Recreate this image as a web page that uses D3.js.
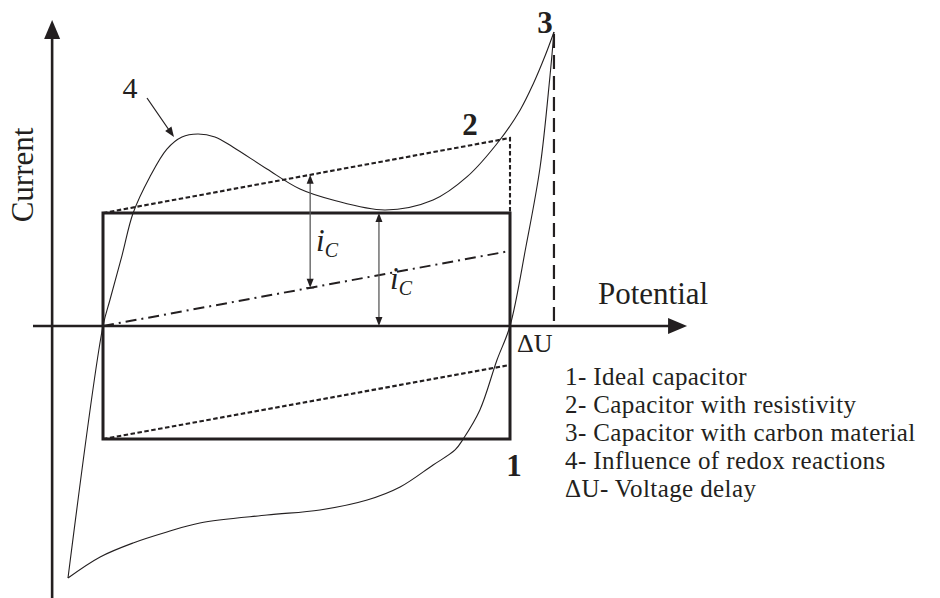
<!DOCTYPE html>
<html>
<head>
<meta charset="utf-8">
<script src="https://cdn.jsdelivr.net/npm/d3@7"></script>
<style>
  html, body { margin: 0; padding: 0; background: #fff; }
  svg { display: block; }
  text { font-family: "Liberation Serif", "Times New Roman", serif; fill: #231f20; }
</style>
</head>
<body>
<svg id="chart" width="940" height="598"></svg>
<script>
// Potential in units of the ideal window (0 .. 1), current in units of the ideal plateau (-1 .. 1)

// 1 - ideal capacitor: rectangle corners
const idealE = [0, 1];
const idealI = [-1, 1];

// 2 - capacitor with resistivity: sloped forward / reverse lines
const resistE = [0, 1];
const resistTopI = [1, 1.664];
const resistBottomI = [-1, -0.345];

// dash-dot reference line (resistive slope through origin)
const slopeE = [0, 1];
const slopeI = [0, 0.664];

// 3/4 - carbon material with redox influence: forward sweep
const forwardE = [-0.086, 0, 0.017, 0.047, 0.074, 0.115, 0.157, 0.194, 0.233, 0.275, 0.319, 0.403, 0.484, 0.565, 0.693, 0.811, 0.894, 0.975, 1.025, 1.057, 1.086, 1.108];
const forwardI = [-2.230, 0, 0.230, 0.628, 1.000, 1.319, 1.566, 1.673, 1.699, 1.673, 1.584, 1.389, 1.212, 1.115, 1.027, 1.115, 1.319, 1.646, 1.912, 2.142, 2.389, 2.602];

// reverse sweep
const reverseE = [1.108, 1.098, 1.074, 1.039, 1.000, 0.968, 0.926, 0.885, 0.865, 0.811, 0.730, 0.649, 0.533, 0.403, 0.238, 0.157, 0.074, -0.007, -0.086];
const reverseI = [2.602, 2.204, 1.407, 0.699, 0, -0.301, -0.743, -1.000, -1.097, -1.230, -1.425, -1.540, -1.628, -1.673, -1.743, -1.823, -1.920, -2.044, -2.230];

// voltage delay
const deltaU = 1.108;

// i_C markers (potential positions)
const icE = [0.509, 0.678];

// axes extents
const axisE = [-0.172, 1.435];
const axisI = [-2.40, 2.708];
const yAxisE = -0.125;

// legend
const legendLines = [
  "1- Ideal capacitor",
  "2- Capacitor with resistivity",
  "3- Capacitor with carbon material",
  "4- Influence of redox reactions",
  "\u0394U- Voltage delay"
];

const ink = "#231f20";
const svg = d3.select("#chart");

const x = d3.scaleLinear().domain([0, 1]).range([103, 510]);
const y = d3.scaleLinear().domain([0, 1]).range([326, 213]);

const line = d3.line().x(d => x(d[0])).y(d => y(d[1]));
const smooth = d3.line().x(d => x(d[0])).y(d => y(d[1])).curve(d3.curveCatmullRom.alpha(0.5));

// axes
svg.append("line")
  .attr("x1", x(yAxisE)).attr("x2", x(yAxisE))
  .attr("y1", y(axisI[0]) + 2).attr("y2", y(axisI[1]) + 10)
  .attr("stroke", ink).attr("stroke-width", 2.6);
svg.append("path")
  .attr("d", `M${x(yAxisE)},${y(axisI[1])} L${x(yAxisE) - 8},${y(axisI[1]) + 19} L${x(yAxisE) + 8},${y(axisI[1]) + 19} Z`)
  .attr("fill", ink);

svg.append("line")
  .attr("x1", x(axisE[0])).attr("x2", x(axisE[1]) - 10)
  .attr("y1", y(0)).attr("y2", y(0))
  .attr("stroke", ink).attr("stroke-width", 2.6);
svg.append("path")
  .attr("d", `M${x(axisE[1])},${y(0)} L${x(axisE[1]) - 19},${y(0) - 8} L${x(axisE[1]) - 19},${y(0) + 8} Z`)
  .attr("fill", ink);

// 1 - ideal capacitor
svg.append("rect")
  .attr("x", x(idealE[0])).attr("y", y(idealI[1]))
  .attr("width", x(idealE[1]) - x(idealE[0]))
  .attr("height", y(idealI[0]) - y(idealI[1]))
  .attr("fill", "none").attr("stroke", ink).attr("stroke-width", 3);

// 2 - resistive capacitor (dotted)
const dotted = { "stroke": ink, "stroke-width": 2.1, "stroke-dasharray": "4.5,2.5", "fill": "none" };
function applyAttrs(sel, attrs) { Object.entries(attrs).forEach(([k, v]) => sel.attr(k, v)); return sel; }
applyAttrs(svg.append("path").attr("d", line([
  [resistE[0], resistTopI[0]], [resistE[1], resistTopI[1]], [resistE[1], idealI[1]]
])), dotted);
applyAttrs(svg.append("path").attr("d", line([
  [resistE[0], resistBottomI[0]], [resistE[1], resistBottomI[1]]
])), dotted);

// dash-dot slope line
svg.append("path")
  .attr("d", line([[slopeE[0], slopeI[0]], [slopeE[1], slopeI[1]]]))
  .attr("fill", "none").attr("stroke", ink).attr("stroke-width", 2)
  .attr("stroke-dasharray", "11,5,2,5");

// voltage delay dashed line
svg.append("line")
  .attr("x1", x(deltaU)).attr("x2", x(deltaU))
  .attr("y1", y(forwardI[forwardI.length - 1]) + 2).attr("y2", y(0))
  .attr("stroke", ink).attr("stroke-width", 2.2)
  .attr("stroke-dasharray", "14,7");

// 3/4 - carbon / redox curve
svg.append("path")
  .attr("d", smooth(forwardE.map((e, i) => [e, forwardI[i]])))
  .attr("fill", "none").attr("stroke", ink).attr("stroke-width", 1.1);
svg.append("path")
  .attr("d", smooth(reverseE.map((e, i) => [e, reverseI[i]])))
  .attr("fill", "none").attr("stroke", ink).attr("stroke-width", 1.1);

// i_C double arrows
const grey = "#5a5a5a";
function arrowHead(px, py, dir) {
  // dir: -1 pointing up, 1 pointing down
  return `M${px},${py} L${px - 3.5},${py - dir * 9} L${px + 3.5},${py - dir * 9} Z`;
}
function doubleArrow(e, i0, i1) {
  const px = x(e), pTop = y(i1), pBot = y(i0);
  svg.append("line").attr("x1", px).attr("x2", px)
    .attr("y1", pTop + 4).attr("y2", pBot - 4)
    .attr("stroke", grey).attr("stroke-width", 1.3);
  svg.append("path").attr("d", arrowHead(px, pTop, -1)).attr("fill", ink);
  svg.append("path").attr("d", arrowHead(px, pBot, 1)).attr("fill", ink);
}
doubleArrow(icE[0], slopeI[0] + (slopeI[1] - slopeI[0]) * icE[0], resistTopI[0] + (resistTopI[1] - resistTopI[0]) * icE[0]);
doubleArrow(icE[1], 0, idealI[1]);
// small bar at the lower arrow tip of the first marker
svg.append("line")
  .attr("x1", x(icE[0]) - 4).attr("x2", x(icE[0]) + 4)
  .attr("y1", y(slopeI[1] * icE[0])).attr("y2", y(slopeI[1] * icE[0]))
  .attr("stroke", ink).attr("stroke-width", 1.2);

// i_C labels
function icLabel(px, py) {
  const t = svg.append("text").attr("x", px).attr("y", py);
  t.append("tspan").attr("font-style", "italic").attr("font-size", 31).text("i");
  t.append("tspan").attr("font-style", "italic").attr("font-size", 20).attr("dy", 6).text("C");
}
icLabel(316, 251);
icLabel(390, 289);

// "4" annotation with arrow
svg.append("text").attr("x", 130).attr("y", 98).attr("text-anchor", "middle")
  .attr("font-size", 30).text("4");
svg.append("line").attr("x1", 147).attr("y1", 98).attr("x2", 169).attr("y2", 130)
  .attr("stroke", ink).attr("stroke-width", 1.2);
(function () {
  const tx = 174, ty = 137, ang = Math.atan2(137 - 98, 174 - 147);
  const L = 10, W = 3.8;
  const bx = tx - L * Math.cos(ang), by = ty - L * Math.sin(ang);
  const nx = -Math.sin(ang) * W, ny = Math.cos(ang) * W;
  svg.append("path")
    .attr("d", `M${tx},${ty} L${bx + nx},${by + ny} L${bx - nx},${by - ny} Z`)
    .attr("fill", ink);
})();

// curve numbers
svg.append("text").attr("x", 514).attr("y", 476).attr("text-anchor", "middle")
  .attr("font-size", 31).attr("font-weight", "bold").text("1");
svg.append("text").attr("x", 470).attr("y", 135).attr("text-anchor", "middle")
  .attr("font-size", 31).attr("font-weight", "bold").text("2");
svg.append("text").attr("x", 545).attr("y", 33).attr("text-anchor", "middle")
  .attr("font-size", 31).attr("font-weight", "bold").text("3");

// axis titles
svg.append("text")
  .attr("transform", "translate(33,175) rotate(-90)")
  .attr("text-anchor", "middle").attr("font-size", 31).text("Current");
svg.append("text").attr("x", 598).attr("y", 304)
  .attr("font-size", 31).text("Potential");
svg.append("text").attr("x", 517).attr("y", 352)
  .attr("font-size", 26).text("\u0394U");

// legend
const legendBase = [385, 413, 441, 469, 497];
svg.selectAll("text.legend").data(legendLines).join("text")
  .attr("class", "legend")
  .attr("x", 565)
  .attr("y", (d, i) => legendBase[i])
  .attr("font-size", 25)
  .attr("letter-spacing", 0.4)
  .text(d => d);
</script>
</body>
</html>
